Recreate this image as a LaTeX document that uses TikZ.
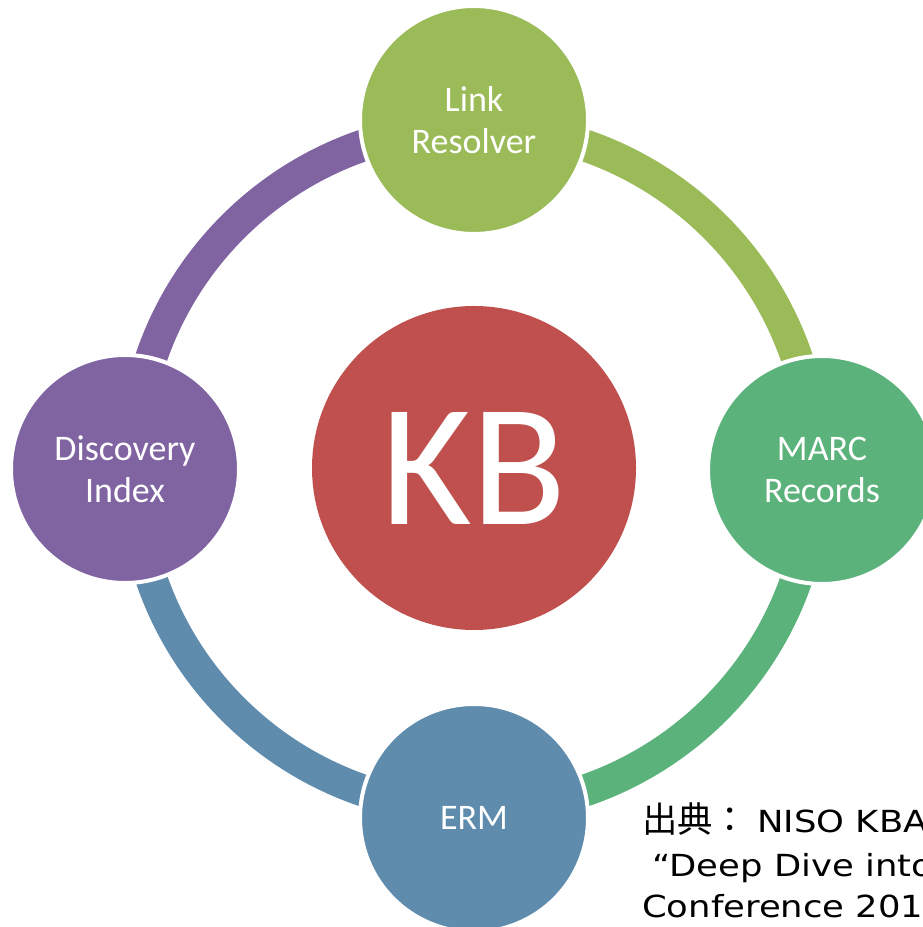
\documentclass[tikz,border=0pt]{standalone}
\usepackage{fontspec}
\setmainfont{Carlito}
\newfontfamily\cjk{Noto Sans CJK JP}
\newfontfamily\dvs[FakeStretch=1.165]{DejaVu Sans}
\definecolor{cTop}{HTML}{9BBB59}
\definecolor{cRight}{HTML}{5BB27B}
\definecolor{cBottom}{HTML}{5F8CAD}
\definecolor{cLeft}{HTML}{8064A2}
\definecolor{cKB}{HTML}{C0504D}
\tikzset{
  sat/.style={circle, fill=#1, draw=white, line width=3pt, minimum size=171pt, inner sep=0pt,
    text=white, align=center, font=\fontsize{27}{31.3}\selectfont},
  ring/.style={draw=#1, line width=24pt},
  src/.style={anchor=base west, inner sep=0pt, text=black, font=\dvs\fontsize{22.8}{26}\selectfont}
}
\begin{document}
\begin{tikzpicture}[x=0.75pt,y=0.75pt]
\useasboundingbox (0,0) rectangle (922,927);
\coordinate (c) at (474,459);
\def\R{255.75pt}
% ring arcs
\draw[ring=cTop]    ([shift={(90:\R)}]c) arc[start angle=90, end angle=0, radius=\R];
\draw[ring=cRight]  ([shift={(0:\R)}]c) arc[start angle=0, end angle=-90, radius=\R];
\draw[ring=cBottom] ([shift={(-90:\R)}]c) arc[start angle=-90, end angle=-180, radius=\R];
\draw[ring=cLeft]   ([shift={(180:\R)}]c) arc[start angle=180, end angle=90, radius=\R];
% satellites
\node[sat=cTop]    (lr)   at (474,807) {Link\\Resolver};
\node[sat=cRight]  (marc) at (822,457) {MARC\\Records};
\node[sat=cBottom] (erm)  at (474,109) {ERM};
\node[sat=cLeft]   (di)   at (125,458) {Discovery\\Index};
% center
\node[circle, fill=cKB, minimum size=243pt, inner sep=0pt, text=white,
      font=\fontsize{131}{131}\selectfont] (kb) at (474,459) {KB};
% source text
\node[src, font=\cjk\fontsize{26.5}{30}\selectfont] (s1a) at (642,94) {出典：};
\node[src] (s1b) at (757,94) {NISO KBA};
\node[src] (s2) at (652,50) {“Deep Dive into};
\node[src] (s3) at (642,9) {Conference 201};
\end{tikzpicture}
\end{document}
